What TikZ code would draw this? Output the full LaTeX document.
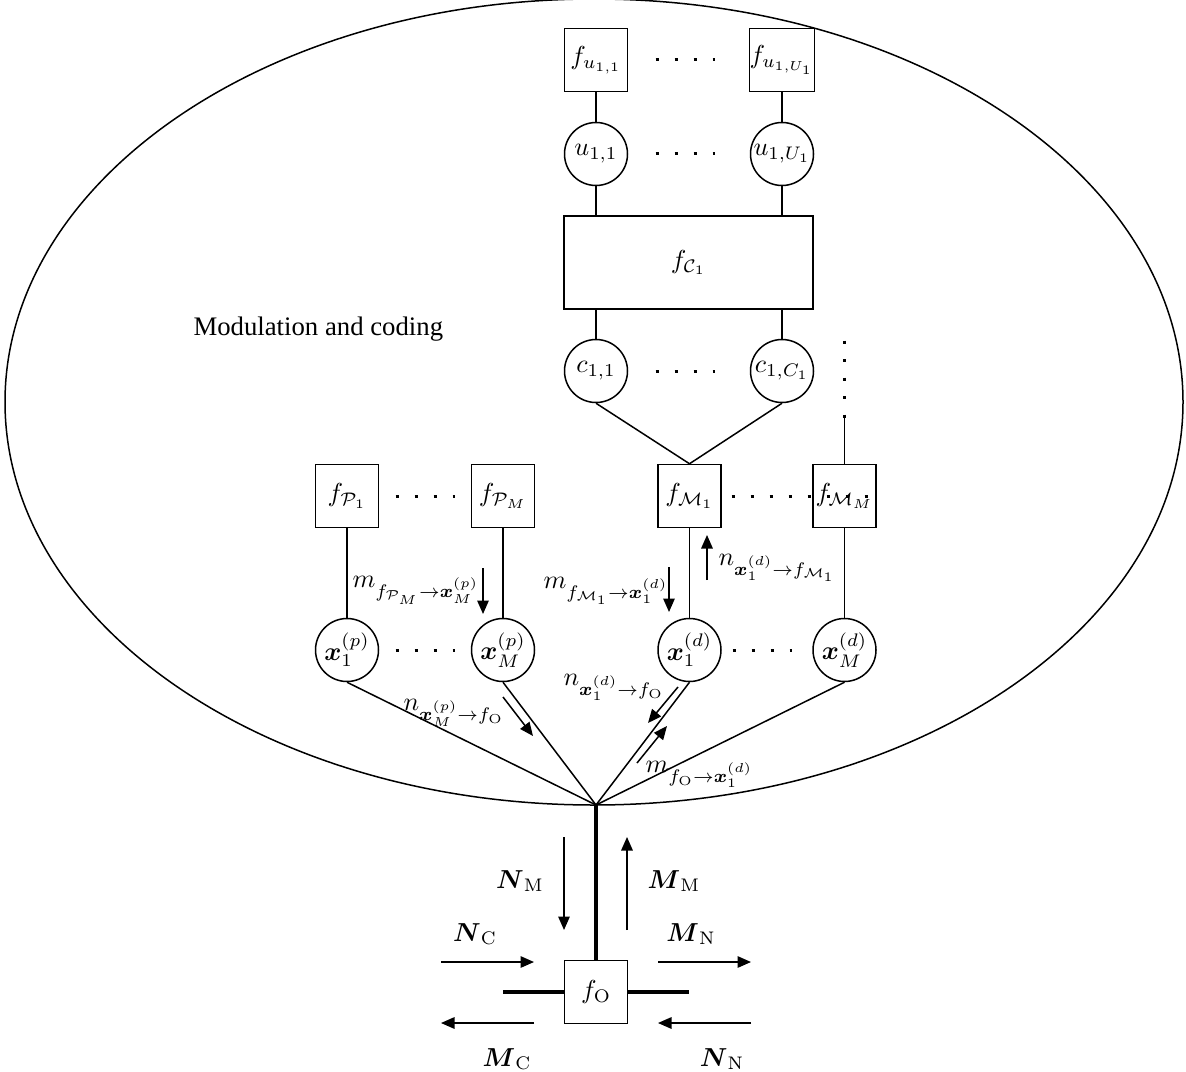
\RequirePackage{fix-cm}
\documentclass[tikz,border=0pt]{standalone}
\usepackage{amsmath}
\usepackage{fontspec}
\newfontfamily\captionfont{Liberation Serif}
\usetikzlibrary{arrows.meta,calc}
\tikzset{
  fac/.style={draw, line width=0.6pt, minimum size=25.2pt, inner sep=0pt},
  var/.style={draw, circle, line width=0.6pt, minimum size=25.2pt, inner sep=0pt},
  edge/.style={line width=0.6pt},
  thickedge/.style={line width=1.3pt},
  dotrow/.style={line width=1.2pt, dash pattern=on 1.2pt off 6.4pt},
  dotcol/.style={line width=1.2pt, dash pattern=on 1.2pt off 6.2pt},
  msg/.style={line width=0.6pt, -{Triangle[length=5.4pt,width=4.6pt]}},
  lab/.style={inner sep=0pt, anchor=base west},
  blab/.style={inner sep=0pt, anchor=base},
}
\begin{document}
\begin{tikzpicture}[x=0.4pt, y=-0.4pt, font=\fontsize{10.4}{12.5}\selectfont]
\useasboundingbox (0,0) rectangle (1186,1072);

% ellipse
\draw[edge] (594,402) ellipse [x radius=589, y radius=403];
\node[lab, font=\captionfont\fontsize{10.7}{12.8}\selectfont] (mc) at (193,335) {Modulation and coding};

% top factors and variables
\node[fac] (fu11) at (596,60) {$f_{u_{1,1}}$};
\node[fac] (fu1U) at (782,60) {$f_{u_{1,U_1}}$};
\node[var] (u11) at (596,154) {$u_{1,1}$};
\node[var] (u1U) at (782,154) {$u_{1,U_1}$};
\node[draw, line width=0.6pt, minimum width=99.6pt, minimum height=37.2pt, inner sep=0pt] (fC) at (688.5,262.5) {$f_{\mathcal{C}_1}$};
\node[var] (c11) at (596,371) {$c_{1,1}$};
\node[var] (c1C) at (782,371) {$c_{1,C_1}$};

% middle row
\node[fac] (fP1) at (347,496) {$f_{\mathcal{P}_1}$};
\node[fac] (fPM) at (503,496) {$f_{\mathcal{P}_M}$};
\node[fac] (fM1) at (689.5,496) {$f_{\mathcal{M}_1}$};
\node[fac] (fMM) at (844.5,496) {$f_{\mathcal{M}_M}$};

\node[var] (x1p) at (347,650) {$\boldsymbol{x}_1^{(p)}$};
\node[var] (xMp) at (503,650) {$\boldsymbol{x}_M^{(p)}$};
\node[var] (x1d) at (689.5,650) {$\boldsymbol{x}_1^{(d)}$};
\node[var] (xMd) at (844.5,650) {$\boldsymbol{x}_M^{(d)}$};

\coordinate (O) at (596,805);
\node[fac] (fO) at (596,992) {$f_{\mathrm{O}}$};
\coordinate (hl) at (503,992);
\coordinate (hr) at (689,992);

% connections
\draw[edge] (fu11) -- (u11);
\draw[edge] (fu1U) -- (u1U);
\draw[edge] (u11.south) -- (u11.south |- fC.north);
\draw[edge] (u1U.south) -- (u1U.south |- fC.north);
\draw[edge] (c11.north |- fC.south) -- (c11.north);
\draw[edge] (c1C.north |- fC.south) -- (c1C.north);
\draw[edge] (c11.south) -- (fM1.north);
\draw[edge] (c1C.south) -- (fM1.north);
\draw[edge] (fP1) -- (x1p);
\draw[edge] (fPM) -- (xMp);
\draw[edge] (fM1) -- (x1d);
\draw[edge] (fMM) -- (xMd);
\draw[edge] (x1p.south) -- (O);
\draw[edge] (xMp.south) -- (O);
\draw[edge] (x1d.south) -- (O);
\draw[edge] (xMd.south) -- (O);
\draw[thickedge] (O) -- (fO.north);
\draw[thickedge] (hl) -- (fO.west);
\draw[thickedge] (fO.east) -- (hr);

% vertical dots above f_MM
\coordinate (vd1) at (844.5,340.5);
\coordinate (vd2) at (844.5,417.5);
\draw[dotcol] (vd1) -- (vd2);
\draw[edge] (844.5,416) -- (fMM.north);

% horizontal dot rows
\draw[dotrow] (655.5,60) -- (714.5,60);
\draw[dotrow] (655.5,154) -- (714.5,154);
\draw[dotrow] (655.5,371) -- (714.5,371);
\draw[dotrow] (395.5,496) -- (454.5,496);
\draw[dotrow] (395.5,650) -- (454.5,650);
\draw[dotrow] (731.5,496) -- (875,496);
\draw[dotrow] (732.5,650) -- (791.5,650);

% message arrows
\coordinate (a1s) at (483,568); \coordinate (a1e) at (483,614);
\draw[msg] (a1s) -- (a1e);
\node[lab] (l1) at (352,587) {$m_{f_{\mathcal{P}_M}\rightarrow\boldsymbol{x}_M^{(p)}}$};

\coordinate (a2s) at (669,567); \coordinate (a2e) at (669,612);
\draw[msg] (a2s) -- (a2e);
\node[lab] (l2) at (543,588) {$m_{f_{\mathcal{M}_1}\rightarrow\boldsymbol{x}_1^{(d)}}$};

\coordinate (a3s) at (707,580); \coordinate (a3e) at (707,535);
\draw[msg] (a3s) -- (a3e);
\node[lab] (l3) at (718,565) {$n_{\boldsymbol{x}_1^{(d)}\rightarrow f_{\mathcal{M}_1}}$};

\coordinate (a4s) at (503,697); \coordinate (a4e) at (533,736);
\draw[msg] (a4s) -- (a4e);
\node[lab] (l4) at (403,710) {$n_{\boldsymbol{x}_M^{(p)}\rightarrow f_{\mathrm{O}}}$};

\coordinate (a5s) at (678,687); \coordinate (a5e) at (648,723);
\draw[msg] (a5s) -- (a5e);
\node[lab] (l5) at (563,685) {$n_{\boldsymbol{x}_1^{(d)}\rightarrow f_{\mathrm{O}}}$};

\coordinate (a6s) at (637,763); \coordinate (a6e) at (667,726);
\draw[msg] (a6s) -- (a6e);
\node[lab] (l6) at (645,772) {$m_{f_{\mathrm{O}}\rightarrow\boldsymbol{x}_1^{(d)}}$};

% bottom arrows
\coordinate (b1s) at (564,837); \coordinate (b1e) at (564,930);
\draw[msg] (b1s) -- (b1e);
\node[blab] (NM) at (520,888) {$\boldsymbol{N}_{\mathrm{M}}$};
\coordinate (b2s) at (627,930); \coordinate (b2e) at (627,837);
\draw[msg] (b2s) -- (b2e);
\node[blab] (MM) at (674,888) {$\boldsymbol{M}_{\mathrm{M}}$};
\coordinate (b3s) at (441,962); \coordinate (b3e) at (534,962);
\draw[msg] (b3s) -- (b3e);
\node[blab] (NC) at (475,941) {$\boldsymbol{N}_{\mathrm{C}}$};
\coordinate (b4s) at (658,962); \coordinate (b4e) at (751,962);
\draw[msg] (b4s) -- (b4e);
\node[blab] (MN) at (691,941) {$\boldsymbol{M}_{\mathrm{N}}$};
\coordinate (b5s) at (534,1023); \coordinate (b5e) at (441,1023);
\draw[msg] (b5s) -- (b5e);
\node[blab] (MC) at (507,1066) {$\boldsymbol{M}_{\mathrm{C}}$};
\coordinate (b6s) at (751,1023); \coordinate (b6e) at (658,1023);
\draw[msg] (b6s) -- (b6e);
\node[blab] (NN) at (722,1066) {$\boldsymbol{N}_{\mathrm{N}}$};
\end{tikzpicture}
\end{document}
